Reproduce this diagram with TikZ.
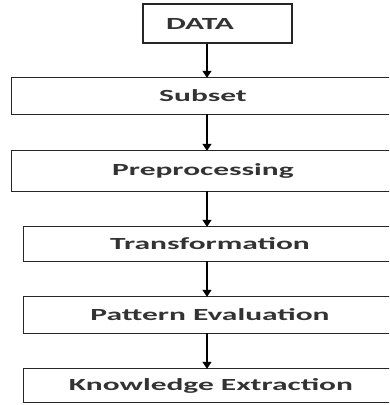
\documentclass[tikz,border=0pt]{standalone}
\usepackage{fontspec}
\setmainfont{Carlito}
\usetikzlibrary{arrows.meta}
\newcommand{\lbl}[1]{\scalebox{1.85}[1]{\fontsize{17}{17}\selectfont\bfseries #1}}
\tikzset{
  stepbox/.style={rectangle, inner sep=0pt, text=black!80},
  edge3/.style={draw=black!85, line width=1.2pt},
  arr/.style={draw=black, line width=1.4pt, -{Triangle[length=7pt,width=9pt]}}
}
\begin{document}
\begin{tikzpicture}[x=1pt,y=-1pt]
\useasboundingbox (0,0) rectangle (389,405);
\clip (0,0) rectangle (389,405);
\coordinate (ax) at (207,0);
\node[stepbox, draw=black!85, line width=1.2pt, minimum width=149pt, minimum height=39pt] (data) at (217.5,23.5) {\hspace*{-35pt}\lbl{DATA}};
\node[stepbox, minimum width=410pt, minimum height=36pt] (subset) at (217,96) {\hspace*{-28pt}\lbl{Subset}};
\node[stepbox, minimum width=410pt, minimum height=40pt] (prep) at (217,171) {\hspace*{-28pt}\lbl{Preprocessing}};
\node[stepbox, minimum width=396pt, minimum height=34pt] (trans) at (222,244) {\hspace*{-24pt}\lbl{Transformation}};
\node[stepbox, minimum width=396pt, minimum height=36pt] (patt) at (222,315) {\hspace*{-24pt}\lbl{Pattern Evaluation}};
\node[stepbox, minimum width=396pt, minimum height=33pt] (know) at (222,385.5) {\hspace*{-22pt}\lbl{Knowledge Extraction}};
\foreach \n in {subset,prep,trans,patt,know}
  \draw[edge3] (\n.north east) -- (\n.north west) -- (\n.south west) -- (\n.south east);
\draw[arr] (data.south -| ax) -- (subset.north -| ax);
\draw[arr] (subset.south -| ax) -- (prep.north -| ax);
\draw[arr] (prep.south -| ax) -- (trans.north -| ax);
\draw[arr] (trans.south -| ax) -- (patt.north -| ax);
\draw[arr] (patt.south -| ax) -- (know.north -| ax);
\end{tikzpicture}
\end{document}
